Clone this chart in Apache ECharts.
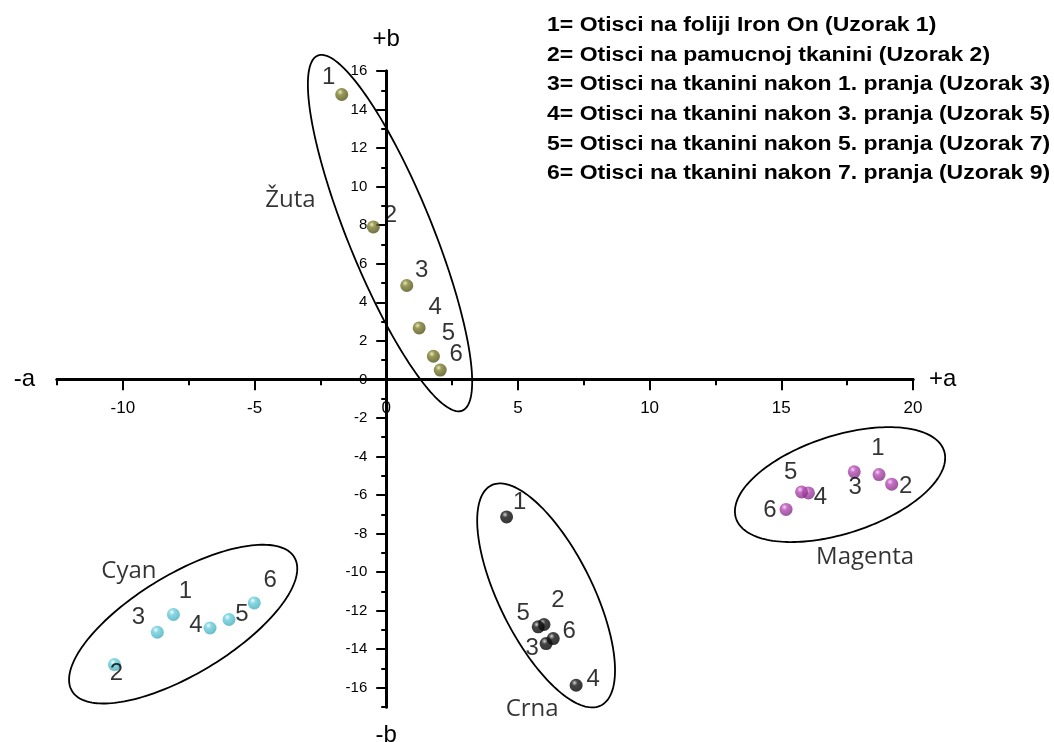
<!DOCTYPE html>
<html><head><meta charset="utf-8">
<script src="https://cdn.jsdelivr.net/npm/echarts@6/dist/echarts.min.js"></script>
<style>html,body{margin:0;padding:0;background:#fff}#c{width:1054px;height:742px}</style>
</head><body><div id="c"></div>
<script>
// ---- data ----
const pointLabels = ['1', '2', '3', '4', '5', '6'];
const zutaA = [-1.69, -0.49, 0.78, 1.25, 1.79, 2.05];
const zutaB = [14.78, 7.91, 4.87, 2.67, 1.20, 0.48];
const cyanA = [-8.08, -10.32, -8.69, -6.69, -5.97, -5.01];
const cyanB = [-12.20, -14.80, -13.12, -12.90, -12.46, -11.60];
const crnaA = [4.57, 5.99, 6.07, 7.21, 5.77, 6.34];
const crnaB = [-7.14, -12.72, -13.71, -15.87, -12.84, -13.45];
const magentaA = [18.71, 19.19, 17.77, 16.03, 15.77, 15.18];
const magentaB = [-4.94, -5.44, -4.80, -5.89, -5.84, -6.75];
const groupNames = ['Žuta', 'Cyan', 'Crna', 'Magenta'];
const xMajorTicks = [-10, -5, 0, 5, 10, 15, 20];
const xMinorTicks = [-12.5, -7.5, -2.5, 2.5, 7.5, 12.5, 17.5];
const yMajorTicks = [-16, -14, -12, -10, -8, -6, -4, -2, 0, 2, 4, 6, 8, 10, 12, 14, 16];
const yMinorTicks = [-17, -15, -13, -11, -9, -7, -5, -3, -1, 1, 3, 5, 7, 9, 11, 13, 15];
const legendLines = [
  '1= Otisci na foliji Iron On (Uzorak 1)',
  '2= Otisci na pamucnoj tkanini (Uzorak 2)',
  '3= Otisci na tkanini nakon 1. pranja (Uzorak 3)',
  '4= Otisci na tkanini nakon 3. pranja (Uzorak 5)',
  '5= Otisci na tkanini nakon 5. pranja (Uzorak 7)',
  '6= Otisci na tkanini nakon 7. pranja (Uzorak 9)'
];
const xMin = -12.5, xMax = 20, yMin = -17, yMax = 16;

// ---- annotation layout (data-space) ----
// [centerA, centerB, majorTipA, majorTipB, minor/major ratio]
const ellipseShapes = [
  [0.144, 7.59, -2.60, 16.80, 0.22],
  [-7.71, -12.70, -3.49, -9.23, 0.385],
  [6.07, -11.21, 3.99, -5.50, 0.38],
  [17.23, -5.46, 21.18, -3.71, 0.447]
];
const groupNameAt = [[-3.64, 9.30], [-9.77, -9.95], [5.54, -17.1], [18.18, -9.2]];
const labelOffsets = {
  zuta: [[-13, -17], [17, -12], [15, -15], [16, -21], [15, -23], [16, -16]],
  cyan: [[12, -23], [2, 9], [-19, -15], [-14, -3], [13, -5], [16, -23]],
  crna: [[13, -15], [14, -24], [-14, 5], [17, -6], [-15, -13], [16, -7]],
  magenta: [[-1, -26], [14, 2], [1, 16], [12, 4], [-11, -20], [-16, 1]]
};

const gridBox = { left: 57, top: 71, width: 856, height: 636 };
// move the axes so they cross at (0, 0)
const xAxisOffset = -gridBox.height * (0 - yMin) / (yMax - yMin);
const yAxisOffset = -gridBox.width * (0 - xMin) / (xMax - xMin);

function ball(base, hl, dark) {
  return {
    type: 'radial', x: 0.38, y: 0.32, r: 0.75,
    colorStops: [
      { offset: 0, color: hl },
      { offset: 0.3, color: base },
      { offset: 1, color: dark }
    ]
  };
}

function groupSeries(a, b, color, offsets) {
  return {
    type: 'scatter', symbol: 'circle', symbolSize: 13, clip: false, z: 3,
    itemStyle: { color: color },
    emphasis: { disabled: true },
    label: {
      show: true, position: 'inside', color: '#000', textBorderWidth: 0,
      fontFamily: 'Liberation Sans, Arial, sans-serif', fontSize: 24,
      formatter: p => pointLabels[p.dataIndex]
    },
    data: a.map((v, i) => ({ value: [v, b[i]], label: { offset: offsets[i] } }))
  };
}

const axisFont = 'Liberation Sans, Arial, sans-serif';
const lineStyle = { color: '#000', width: 3 };
const nameStyle = { fontSize: 24, color: '#000', fontFamily: axisFont };

function xAx(ticks, len, labels, name, loc, gap) {
  return {
    type: 'value', min: xMin, max: xMax, interval: 2.5, position: 'bottom', offset: xAxisOffset,
    axisLine: { show: true, onZero: false, lineStyle: lineStyle },
    axisTick: { show: true, customValues: ticks, length: len, lineStyle: { color: '#000', width: 2 } },
    axisLabel: labels ? { show: true, customValues: labels, margin: 20, fontSize: 17, color: '#000', fontFamily: axisFont } : { show: false },
    splitLine: { show: false },
    name: name, nameLocation: loc, nameGap: gap, nameMoveOverlap: false, nameTextStyle: nameStyle
  };
}
function yAx(ticks, len, labels, name, loc, gap) {
  return {
    type: 'value', min: yMin, max: yMax, interval: 1, position: 'left', offset: yAxisOffset,
    axisLine: { show: true, onZero: false, lineStyle: lineStyle },
    axisTick: { show: true, customValues: ticks, length: len, lineStyle: { color: '#000', width: 2 } },
    axisLabel: labels ? { show: true, customValues: labels, margin: 19, fontSize: 15, color: '#000', fontFamily: axisFont } : { show: false },
    splitLine: { show: false },
    name: name, nameLocation: loc, nameGap: gap, nameMoveOverlap: false, nameTextStyle: nameStyle
  };
}

const chart = echarts.init(document.getElementById('c'), null, { renderer: 'canvas' });
chart.setOption({
  animation: false,
  backgroundColor: '#fff',
  grid: Object.assign({ containLabel: false, outerBoundsMode: 'none' }, gridBox),
  xAxis: [
    xAx(xMajorTicks, 11, xMajorTicks, '+a', 'end', 16),
    xAx(xMinorTicks, 6, null, '-a', 'start', 22)
  ],
  yAxis: [
    yAx(yMajorTicks, 10, yMajorTicks, '+b', 'end', 20),
    yAx(yMinorTicks, 5, null, '-b', 'start', 16)
  ],
  graphic: [{
    type: 'text', left: 547, top: 11, scaleX: 1.18, scaleY: 1,
    style: {
      text: legendLines.join('\n'),
      font: 'bold 19.5px "Liberation Sans", Arial, sans-serif',
      lineHeight: 29.6, fill: '#000'
    }
  }],
  series: [
    {
      type: 'custom', clip: false, silent: true, z: 1,
      renderItem: function (params, api) {
        const c = api.coord([api.value(0), api.value(1)]);
        const t = api.coord([api.value(2), api.value(3)]);
        const dx = t[0] - c[0], dy = t[1] - c[1];
        const a = Math.hypot(dx, dy), b = a * api.value(4), ang = Math.atan2(dy, dx);
        const pts = [];
        for (let i = 0; i < 180; i++) {
          const th = i / 180 * 2 * Math.PI;
          const x = a * Math.cos(th), y = b * Math.sin(th);
          pts.push([c[0] + x * Math.cos(ang) - y * Math.sin(ang), c[1] + x * Math.sin(ang) + y * Math.cos(ang)]);
        }
        return { type: 'polygon', shape: { points: pts }, style: { fill: 'none', stroke: '#000', lineWidth: 1.8 } };
      },
      data: ellipseShapes
    },
    groupSeries(zutaA, zutaB, ball('#80802e', '#e4e4b0', '#4a4a14'), labelOffsets.zuta),
    groupSeries(cyanA, cyanB, ball('#6ccfdc', '#ecfbfd', '#3fa9b8'), labelOffsets.cyan),
    groupSeries(crnaA, crnaB, ball('#151515', '#c8c8c8', '#000000'), labelOffsets.crna),
    groupSeries(magentaA, magentaB, ball('#b64db6', '#f5c8f5', '#7d2a7d'), labelOffsets.magenta),
    {
      type: 'scatter', symbolSize: 1, clip: false, silent: true, z: 4,
      itemStyle: { color: 'rgba(0,0,0,0)' },
      label: {
        show: true, position: 'inside', color: '#000', textBorderWidth: 0,
        fontFamily: '"Open Sans", sans-serif', fontSize: 24,
        formatter: p => groupNames[p.dataIndex]
      },
      data: groupNameAt
    }
  ]
});
</script>
</body></html>
